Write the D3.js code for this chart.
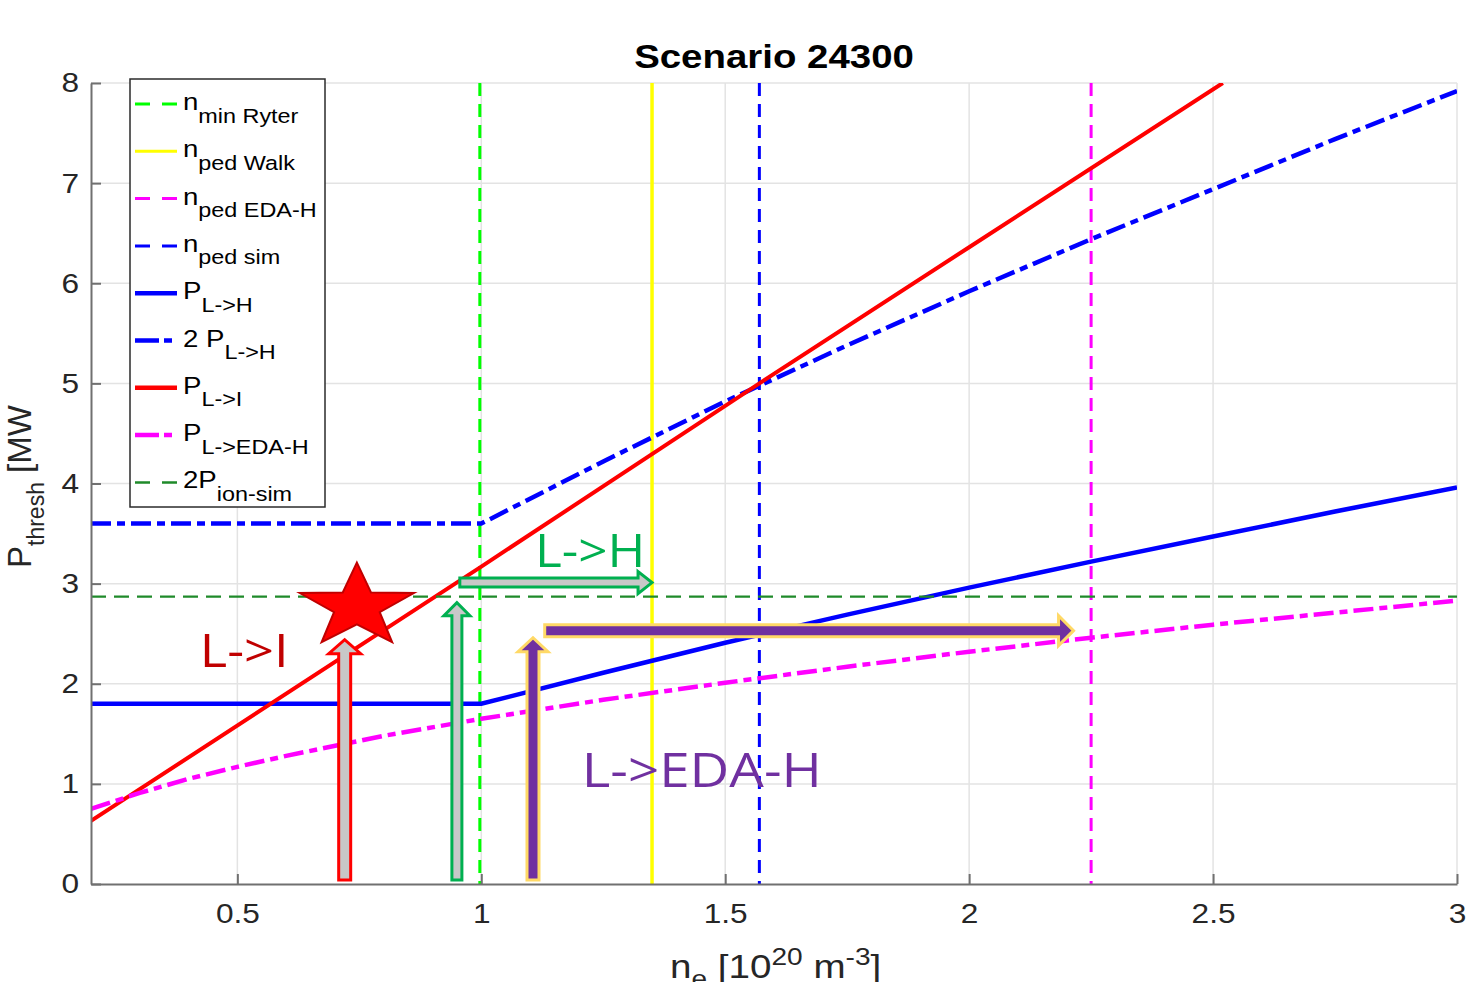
<!DOCTYPE html>
<html><head><meta charset="utf-8">
<script src="https://cdn.jsdelivr.net/npm/d3@7"></script>
<style>body{margin:0;background:#fff} svg{display:block}</style>
</head><body><svg id="c" width="1472" height="982"></svg>
<script>
// ---------- data ----------
const xTicks=[0.5,1,1.5,2,2.5,3];
const yTicks=[0,1,2,3,4,5,6,7,8];
const xPLH=[0.2,1.0,1.25,1.5,1.75,2.0,2.25,2.5,2.75,3.0];
const yPLH=[1.8,1.8,2.11,2.41,2.69,2.96,3.22,3.47,3.72,3.96];
const y2PLH=[3.6,3.6,4.22,4.82,5.38,5.92,6.44,6.94,7.44,7.92];
const xPLI=[0.2,1.0,1.57,2.0,2.52];
const yPLI=[0.63,3.17,5.0,6.36,8.0];
const xPEDA=[0.2,0.3,0.4,0.5,0.6,0.8,1.0,1.25,1.5,1.75,2.0,2.25,2.5,2.75,3.0];
const yPEDA=[0.75,0.91,1.05,1.17,1.28,1.48,1.65,1.84,2.01,2.17,2.32,2.46,2.59,2.71,2.83];
const nMinRyter=0.997, nPedWalk=1.35, nPedEDA=2.25, nPedSim=1.57, p2Ion=2.87;
const legendMain=["n","n","n","n","P","2 P","P","P","2P"];
const legendSub=["min Ryter","ped Walk","ped EDA-H","ped sim","L->H","L->H","L->I","L->EDA-H","ion-sim"];
// annotation arrows in data units: [x0,y0,x1,y1]
const arrowRedUp=[0.72,0.04,0.72,2.44];
const arrowGreenUp=[0.95,0.04,0.95,2.81];
const arrowPurpleUp=[1.106,0.04,1.106,2.46];
const arrowGreenRight=[0.956,3.01,1.35,3.01];
const arrowPurpleRight=[1.13,2.53,2.214,2.53];
const starPos=[0.745,2.77];
const labelTexts=["L->I","L->H","L->EDA-H"];
const labelPos=[[0.423,2.17],[1.11,3.17],[1.206,0.97]];

// ---------- layout ----------
const svg=d3.select("#c");
const L=91,R=1457,T=83,B=884;
const x=d3.scaleLinear([0.2,3],[L,R]);
const y=d3.scaleLinear([0,8],[B,T]);
const SX=1.13, SXL=1.2, SXA=1.14;
const axisFont="'Liberation Sans', Arial, Helvetica, sans-serif";

// grid
const grid=svg.append("g").attr("stroke","#e3e3e3").attr("stroke-width",1.5);
grid.selectAll(".gx").data(xTicks).join("line").attr("x1",d=>x(d)).attr("x2",d=>x(d)).attr("y1",T).attr("y2",B);
grid.selectAll(".gy").data(yTicks.filter(d=>d>0)).join("line").attr("y1",d=>y(d)).attr("y2",d=>y(d)).attr("x1",L).attr("x2",R);

// clip
svg.append("clipPath").attr("id","pa").append("rect").attr("x",L).attr("y",T).attr("width",R-L).attr("height",B-T);
const plot=svg.append("g").attr("clip-path","url(#pa)");

const line=d3.line().x(d=>x(d[0])).y(d=>y(d[1]));
const zip=(a,b)=>a.map((v,i)=>[v,b[i]]);
const DASH="13,8", DASHDOT="20,6,8,6";

// vertical reference lines
function vline(v,color,dash,w){plot.append("line").attr("x1",x(v)).attr("x2",x(v)).attr("y1",y(8)).attr("y2",y(0))
  .attr("stroke",color).attr("stroke-width",w).attr("stroke-dasharray",dash);}
vline(nMinRyter,"#00ff00",DASH,3);
vline(nPedWalk,"#ffff00",null,3.5);
vline(nPedEDA,"#ff00ff",DASH,3);
vline(nPedSim,"#0000ff",DASH,3);

plot.append("path").attr("d",line(zip(xPLH,yPLH))).attr("fill","none").attr("stroke","#0000ff").attr("stroke-width",4.5);
plot.append("path").attr("d",line(zip(xPLH,y2PLH))).attr("fill","none").attr("stroke","#0000ff").attr("stroke-width",4.5).attr("stroke-dasharray",DASHDOT);
plot.append("path").attr("d",line(zip(xPLI,yPLI))).attr("fill","none").attr("stroke","#ff0000").attr("stroke-width",4);
plot.append("path").attr("d",line(zip(xPEDA,yPEDA))).attr("fill","none").attr("stroke","#ff00ff").attr("stroke-width",4.5).attr("stroke-dasharray",DASHDOT);
plot.append("line").attr("x1",x(0.2)).attr("x2",x(3)).attr("y1",y(p2Ion)).attr("y2",y(p2Ion))
  .attr("stroke","#1f8a2a").attr("stroke-width",2.2).attr("stroke-dasharray","15,8");

// axes
const axCol="#707070";
const gx=svg.append("g").attr("transform",`translate(0,${B})`)
  .call(d3.axisBottom(x).tickValues(xTicks).tickSizeInner(-10).tickSizeOuter(0).tickPadding(19).tickFormat(d=>String(d)));
const gy=svg.append("g").attr("transform",`translate(${L},0)`)
  .call(d3.axisLeft(y).tickValues(yTicks).tickSizeInner(-10).tickSizeOuter(0).tickPadding(12).tickFormat(d=>String(d)));
[gx,gy].forEach(g=>{
  g.select(".domain").attr("stroke",axCol).attr("stroke-width",2);
  g.selectAll(".tick line").attr("stroke",axCol).attr("stroke-width",2);
  g.selectAll(".tick text").attr("fill","#262626").style("font-family",axisFont).style("font-size","28px");
});
gx.selectAll(".tick text").attr("transform",`scale(${SX},1)`);
gy.selectAll(".tick text").attr("x",-12/SX).attr("transform",`scale(${SX},1)`);

// title
svg.append("text").attr("transform",`translate(774,68) scale(${SX},1)`).attr("text-anchor","middle")
  .style("font-family",axisFont).style("font-size","34px").style("font-weight","bold").attr("fill","#000").text("Scenario 24300");

// x label
const xl=svg.append("text").attr("transform",`translate(670,978) scale(1.17,1)`)
  .style("font-family",axisFont).style("font-size","33px").attr("fill","#262626");
xl.append("tspan").text("n");
xl.append("tspan").attr("dy",9).style("font-size","24px").text("e");
xl.append("tspan").attr("dy",-9).text(" [10");
xl.append("tspan").attr("dy",-13).style("font-size","24px").text("20");
xl.append("tspan").attr("dy",13).text(" m");
xl.append("tspan").attr("dy",-13).style("font-size","24px").text("-3");
xl.append("tspan").attr("dy",13).text("]");

// y label
const yl=svg.append("text").attr("transform","translate(31,568) rotate(-90)")
  .style("font-family",axisFont).style("font-size","33px").attr("fill","#262626");
yl.append("tspan").text("P");
yl.append("tspan").attr("dy",13).style("font-size","23px").text("thresh");
yl.append("tspan").attr("dy",-13).text(" [MW");

// legend
const lg=svg.append("g");
lg.append("rect").attr("x",130).attr("y",79).attr("width",195).attr("height",428).attr("fill","#fff").attr("stroke","#2b2b2b").attr("stroke-width",1.5);
const LDASH="15,12", LDD="24,5,8,5";
const legStyle=[["#00ff00",3,LDASH],["#ffff00",3,null],["#ff00ff",3,LDASH],["#0000ff",3,LDASH],
  ["#0000ff",4.5,null],["#0000ff",4.5,LDD],["#ff0000",4.5,null],["#ff00ff",4.5,LDD],["#1f8a2a",2.5,LDASH]];
legendMain.forEach((m,i)=>{
  const ly=104+i*47.3;
  const s=legStyle[i];
  lg.append("line").attr("x1",135).attr("x2",177).attr("y1",ly).attr("y2",ly).attr("stroke",s[0]).attr("stroke-width",s[1]).attr("stroke-dasharray",s[2]);
  const t=lg.append("text").attr("transform",`translate(183,${ly+6}) scale(${SXL},1)`).style("font-family",axisFont).style("font-size","23px").attr("fill","#000");
  t.append("tspan").text(m);
  t.append("tspan").attr("dy",12.5).style("font-size","19.5px").text(legendSub[i]);
});

// arrows
function arrowPath(a,sw,hw,hl){
  const p0=[x(a[0]),y(a[1])],p1=[x(a[2]),y(a[3])];
  const dx=p1[0]-p0[0],dy=p1[1]-p0[1],len=Math.hypot(dx,dy);
  const u=[dx/len,dy/len],n=[-u[1],u[0]];
  const b=[p1[0]-u[0]*hl,p1[1]-u[1]*hl];
  const P=(p,k)=>[p[0]+n[0]*k,p[1]+n[1]*k];
  const pts=[P(p0,sw/2),P(b,sw/2),P(b,hw/2),p1,P(b,-hw/2),P(b,-sw/2),P(p0,-sw/2)];
  return "M"+pts.map(p=>p.join(",")).join("L")+"Z";
}
const ag=svg.append("g");
ag.append("path").attr("d",arrowPath(arrowRedUp,12,32,14)).attr("fill","#c8c8c8").attr("stroke","#ff0000").attr("stroke-width",3);
ag.append("path").attr("d",arrowPath(arrowGreenUp,10,26,13)).attr("fill","#c8c8c8").attr("stroke","#00b050").attr("stroke-width",3);
ag.append("path").attr("d",arrowPath(arrowPurpleUp,12,30,14)).attr("fill","#7030a0").attr("stroke","#ffd966").attr("stroke-width",3);
ag.append("path").attr("d",arrowPath(arrowGreenRight,9,22,14)).attr("fill","#c8c8c8").attr("stroke","#00b050").attr("stroke-width",3);
ag.append("path").attr("d",arrowPath(arrowPurpleRight,12,30,15)).attr("fill","#7030a0").attr("stroke","#ffd966").attr("stroke-width",3);

// star
const cx=x(starPos[0]),cy=y(starPos[1]),Rx=60,Ry=44,ri=0.4;
const spts=d3.range(10).map(k=>{const a=-Math.PI/2+k*Math.PI/5,r=k%2?ri:1;return [cx+Rx*r*Math.cos(a),cy+Ry*r*Math.sin(a)];});
ag.append("path").attr("d","M"+spts.map(p=>p.join(",")).join("L")+"Z").attr("fill","#ff0000").attr("stroke","#c00000").attr("stroke-width",2);

// annotation labels
const annFont="'Open Sans','Noto Sans',sans-serif";
const annCol=["#c00000","#00b050","#7030a0"];
const annSize=[46,45,48];
labelTexts.forEach((t,i)=>{
  ag.append("text").attr("transform",`translate(${x(labelPos[i][0])},${y(labelPos[i][1])}) scale(${SXA},1)`).style("font-family",annFont)
    .style("font-size",annSize[i]+"px").attr("fill",annCol[i]).text(t);
});
</script></body></html>
